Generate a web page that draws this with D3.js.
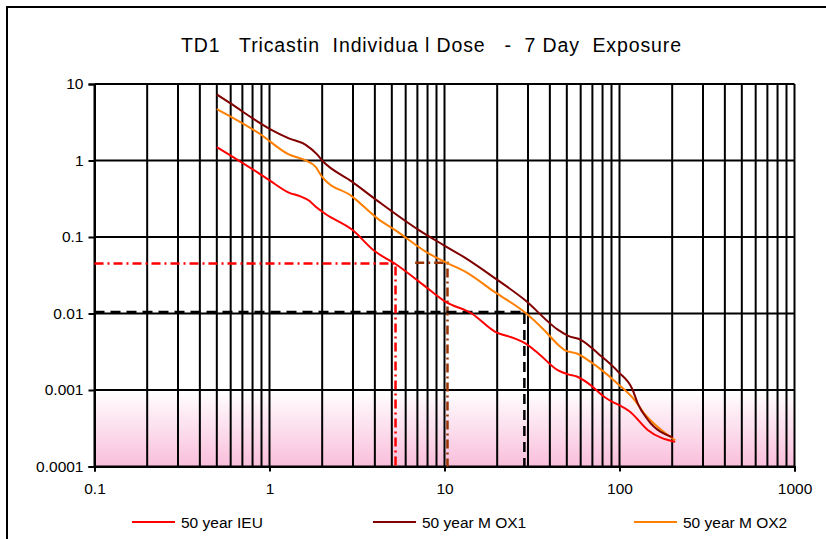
<!DOCTYPE html>
<html>
<head>
<meta charset="utf-8">
<script src="https://cdn.jsdelivr.net/npm/d3@7"></script>
<style>
  html, body { margin: 0; padding: 0; background: #fff; }
  svg { display: block; font-family: "Liberation Sans", Arial, sans-serif; }
</style>
</head>
<body>
<svg id="chart" width="826" height="539"></svg>
<script>
// Dose curves: distance (km) vs individual dose
const ieuX   = [0.5, 0.87, 1.0, 1.29, 1.5, 1.68, 1.83, 2.09, 2.96, 4.0, 5.2, 7.5, 10.1, 14.3, 19.4, 25.3, 28.8, 34.4, 44.6, 50.9, 57, 66, 82, 117, 145, 208];
const ieuY   = [1.5, 0.68, 0.55, 0.38, 0.34, 0.30, 0.25, 0.20, 0.125, 0.065, 0.045, 0.024, 0.0143, 0.010, 0.0058, 0.0047, 0.0041, 0.003, 0.0018, 0.0016, 0.0015, 0.00123, 0.00081, 0.0005, 0.0003, 0.00021];

const mox1X  = [0.5, 0.59, 1.0, 1.29, 1.61, 1.87, 2.0, 2.96, 4.2, 7.1, 9.87, 13.2, 19.4, 28.8, 44.6, 50.9, 60.5, 75.4, 98, 119, 127, 145, 202];
const mox1Y  = [7.3, 5.7, 2.6, 1.95, 1.6, 1.2, 1.0, 0.53, 0.29, 0.124, 0.0785, 0.053, 0.029, 0.015, 0.0061, 0.0051, 0.0045, 0.003, 0.00174, 0.001, 0.00067, 0.00041, 0.00024];

const mox2X  = [0.5, 0.87, 1.29, 1.61, 1.83, 2.0, 2.96, 4.2, 5.2, 8.1, 10.5, 13.2, 19.4, 28.4, 37.3, 44.6, 48.9, 57, 69, 98, 122, 138, 165, 208];
const mox2Y  = [4.7, 2.27, 1.2, 1.0, 0.83, 0.61, 0.34, 0.17, 0.124, 0.061, 0.045, 0.035, 0.019, 0.0106, 0.006, 0.0039, 0.0033, 0.003, 0.0023, 0.0012, 0.00074, 0.0005, 0.00033, 0.00022];

const seriesNames  = ["50 year IEU", "50 year M OX1", "50 year M OX2"];
const seriesColors = ["#ff0000", "#800000", "#ff7f00"];

// Read-off lines: start distance, end distance, dose level
const refStartX = [0.1, 6.8, 0.1];
const refEndX   = [5.25, 10.4, 28.6];
const refY      = [0.045, 0.046, 0.0105];
const refColors = ["#ff0000", "#993300", "#000000"];

const xTickValues = [0.1, 1, 10, 100, 1000];
const xTickLabels = ["0.1", "1", "10", "100", "1000"];
const yTickValues = [10, 1, 0.1, 0.01, 0.001, 0.0001];
const yTickLabels = ["10", "1", "0.1", "0.01", "0.001", "0.0001"];

const title = "TD1   Tricastin  Individua l Dose   -  7 Day  Exposure";

const svg = d3.select("#chart");
const plot = { left: 94.5, right: 794.5, top: 84, bottom: 466.5 };

const x = d3.scaleLog().domain([0.1, 1000]).range([plot.left, plot.right]);
const y = d3.scaleLog().domain([0.0001, 10]).range([plot.bottom, plot.top]);

// Outer frame (left and top edges)
svg.append("path")
  .attr("d", "M7,545 V7 H832")
  .attr("fill", "none").attr("stroke", "#000").attr("stroke-width", 2);

// Title
svg.append("text")
  .attr("x", 181).attr("y", 52)
  .attr("font-size", 19.5)
  .attr("textLength", 500)
  .attr("lengthAdjust", "spacing")
  .attr("xml:space", "preserve")
  .style("white-space", "pre")
  .text(title);

// Pink band in the lowest decade
const defs = svg.append("defs");
const grad = defs.append("linearGradient").attr("id", "lowBand")
  .attr("x1", 0).attr("y1", 0).attr("x2", 0).attr("y2", 1);
grad.append("stop").attr("offset", "0%").attr("stop-color", "#ffffff");
grad.append("stop").attr("offset", "100%").attr("stop-color", "#f9bedb");
svg.append("rect")
  .attr("x", plot.left).attr("y", y(0.001))
  .attr("width", plot.right - plot.left).attr("height", y(0.0001) - y(0.001))
  .attr("fill", "url(#lowBand)");

// Vertical grid at every 1..9 multiple of each decade
const xGrid = [];
for (let e = -1; e < 3; e++) for (let m = 1; m <= 9; m++) xGrid.push(m * Math.pow(10, e));
xGrid.push(1000);
svg.append("g").selectAll("line").data(xGrid).join("line")
  .attr("x1", d => x(d)).attr("x2", d => x(d))
  .attr("y1", plot.top).attr("y2", plot.bottom)
  .attr("stroke", "#000").attr("stroke-width", 2);

// Horizontal grid at decades
svg.append("g").selectAll("line").data(yTickValues).join("line")
  .attr("x1", plot.left).attr("x2", plot.right)
  .attr("y1", d => y(d)).attr("y2", d => y(d))
  .attr("stroke", "#000").attr("stroke-width", 2);

// Axes
const yAxis = svg.append("g").attr("transform", `translate(${plot.left},0)`)
  .call(d3.axisLeft(y).tickValues(yTickValues).tickFormat((d, i) => yTickLabels[i]).tickSize(6).tickPadding(5));
const xAxis = svg.append("g").attr("transform", `translate(0,${plot.bottom})`)
  .call(d3.axisBottom(x).tickValues(xTickValues).tickFormat((d, i) => xTickLabels[i]).tickSize(5).tickPadding(11));
[xAxis, yAxis].forEach(a => {
  a.selectAll("path, line").attr("stroke", "#000").attr("stroke-width", 2);
  a.selectAll("text").attr("font-size", 15.5).attr("fill", "#000")
    .attr("font-family", "'Liberation Sans', Arial, sans-serif");
});

// Read-off lines (horizontal to the curve, then down to the axis)
const refDash = ["9,4,2,4", "9,4,2,4", "10,6"];
refY.forEach((v, i) => {
  svg.append("path")
    .attr("d", `M${x(refStartX[i])},${y(v)} H${x(refEndX[i])} V${plot.bottom}`)
    .attr("fill", "none")
    .attr("stroke", refColors[i])
    .attr("stroke-width", 2.5)
    .attr("stroke-dasharray", refDash[i]);
});

// Dose curves
const line = d3.line().x(d => x(d[0])).y(d => y(d[1])).curve(d3.curveMonotoneX);
const series = [
  d3.zip(ieuX, ieuY),
  d3.zip(mox1X, mox1Y),
  d3.zip(mox2X, mox2Y)
];
// draw MOX2 first, then MOX1, IEU on top
[2, 1, 0].forEach(i => {
  svg.append("path").datum(series[i])
    .attr("d", line)
    .attr("fill", "none")
    .attr("stroke", seriesColors[i])
    .attr("stroke-width", 2);
});

// Legend
const legendX = [132, 373, 634];
const lg = svg.append("g").selectAll("g").data(seriesNames).join("g")
  .attr("transform", (d, i) => `translate(${legendX[i]},522)`);
lg.append("line").attr("x1", 0).attr("x2", 43).attr("y1", 0).attr("y2", 0)
  .attr("stroke", (d, i) => seriesColors[i]).attr("stroke-width", 2);
lg.append("text").attr("x", 49).attr("y", 5.5)
  .attr("font-size", 15.5)
  .text(d => d);
</script>
</body>
</html>
